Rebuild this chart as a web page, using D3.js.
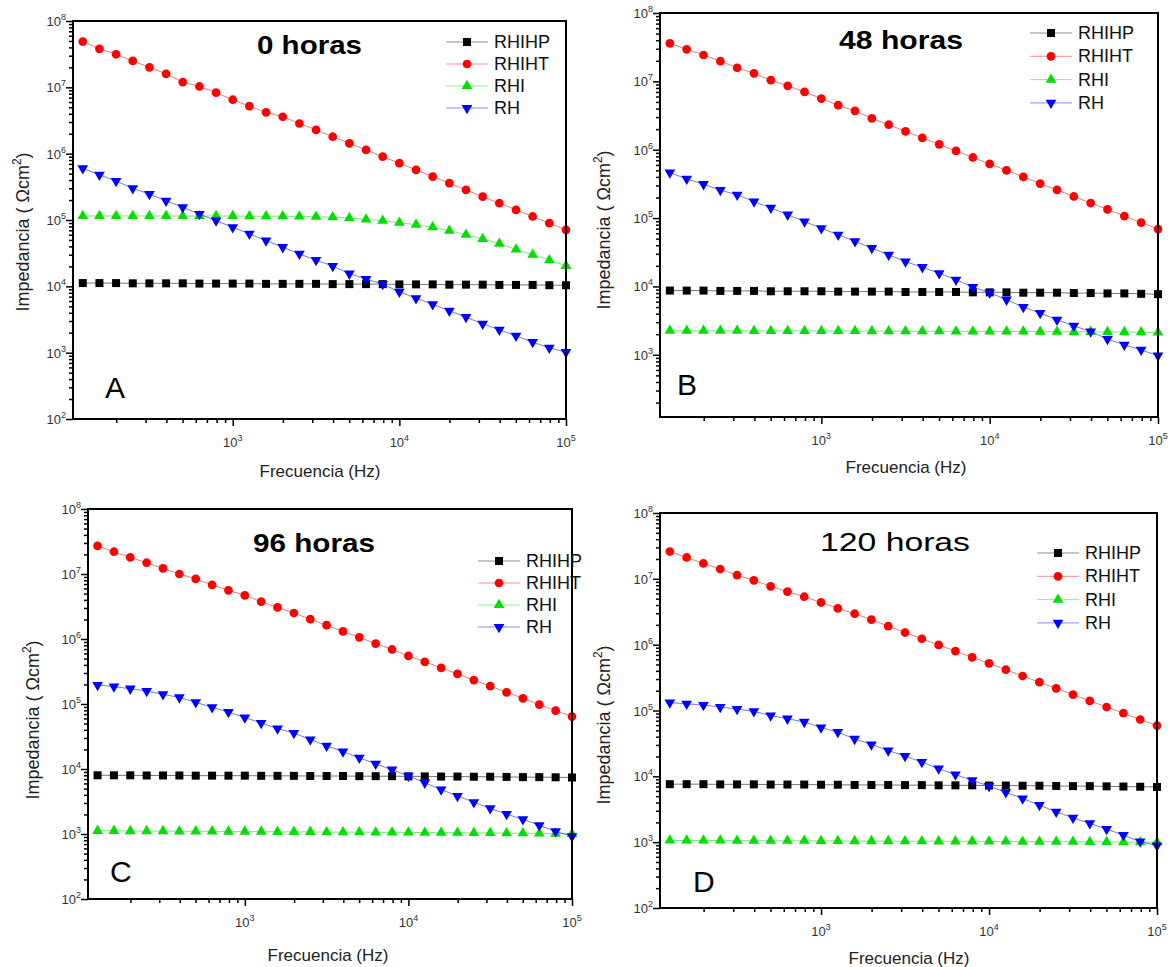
<!DOCTYPE html>
<html>
<head>
<meta charset="utf-8">
<script src="https://cdn.jsdelivr.net/npm/d3@7/dist/d3.min.js"></script>
<style>
  body { margin: 0; background: #fff; }
  svg { font-family: "Liberation Sans", Arial, sans-serif; }
</style>
</head>
<body>
<div class="chart"></div>
<script>
// frequencies (Hz), 10 points per decade
const freq = [125.9, 158.5, 199.5, 251.2, 316.2, 398.1, 501.2, 631, 794.3, 1000,
  1259, 1585, 1995, 2512, 3162, 3981, 5012, 6310, 7943, 10000,
  12589, 15849, 19953, 25119, 31623, 39811, 50119, 63096, 79433, 100000];

const seriesNames = ["RHIHP", "RHIHT", "RHI", "RH"];
const panelTitles = ["0 horas", "48 horas", "96 horas", "120 horas"];
const panelLetters = ["A", "B", "C", "D"];
const xTickLabels = [3, 4, 5];

// 0 horas
const rhihp0 = [11200, 11200, 11200, 11100, 11100, 11100, 11100, 11000, 11000, 11000, 11000, 10900, 10900, 10900, 10900,
  10800, 10800, 10800, 10800, 10700, 10700, 10700, 10600, 10600, 10600, 10500, 10500, 10500, 10400, 10400];
const rhiht0 = [4.9e7, 3.8e7, 3.15e7, 2.5e7, 2.0e7, 1.6e7, 1.2e7, 1.03e7, 8.3e6, 6.5e6, 5.2e6, 4.2e6, 3.6e6, 2.85e6, 2.28e6,
  1.8e6, 1.43e6, 1.14e6, 9.0e5, 7.2e5, 5.7e5, 4.5e5, 3.6e5, 2.84e5, 2.25e5, 1.79e5, 1.42e5, 1.13e5, 8.95e4, 7.1e4];
const rhi0 = [1.15e5, 1.15e5, 1.15e5, 1.15e5, 1.15e5, 1.15e5, 1.15e5, 1.15e5, 1.15e5, 1.15e5, 1.14e5, 1.14e5, 1.14e5, 1.13e5, 1.12e5,
  1.1e5, 1.07e5, 1.02e5, 9.8e4, 9.1e4, 8.5e4, 7.8e4, 6.9e4, 6.0e4, 5.2e4, 4.4e4, 3.6e4, 3.0e4, 2.48e4, 2.04e4];
const rh0 = [6.0e5, 4.81e5, 3.86e5, 3.0e5, 2.46e5, 1.95e5, 1.55e5, 1.23e5, 9.77e4, 7.76e4, 6.17e4, 4.9e4, 3.89e4, 3.09e4, 2.48e4,
  2.02e4, 1.55e4, 1.29e4, 1.08e4, 8.26e3, 6.61e3, 5.37e3, 4.27e3, 3.43e3, 2.72e3, 2.21e3, 1.79e3, 1.44e3, 1.18e3, 1.02e3];

// 48 horas
const rhihp48 = [8700, 8700, 8700, 8600, 8600, 8600, 8500, 8500, 8500, 8500, 8400, 8400, 8400, 8400, 8300,
  8300, 8300, 8300, 8200, 8200, 8200, 8100, 8100, 8100, 8000, 8000, 7900, 7900, 7800, 7700];
const rhiht48 = [3.6e7, 2.94e7, 2.43e7, 1.97e7, 1.58e7, 1.31e7, 1.04e7, 8.6e6, 7.0e6, 5.6e6, 4.48e6, 3.69e6, 2.88e6, 2.32e6, 1.86e6,
  1.49e6, 1.2e6, 9.6e5, 7.7e5, 6.2e5, 5.0e5, 4.0e5, 3.2e5, 2.58e5, 2.07e5, 1.66e5, 1.34e5, 1.07e5, 8.6e4, 6.9e4];
const rhi48 = [2250, 2250, 2250, 2250, 2250, 2240, 2240, 2240, 2240, 2230, 2230, 2230, 2220, 2220, 2220,
  2210, 2210, 2200, 2200, 2200, 2190, 2190, 2180, 2180, 2170, 2170, 2160, 2150, 2140, 2120];
const rh48 = [4.62e5, 3.74e5, 3.13e5, 2.56e5, 2.19e5, 1.74e5, 1.41e5, 1.12e5, 8.9e4, 7.1e4, 5.7e4, 4.57e4, 3.63e4, 2.9e4, 2.31e4,
  1.91e4, 1.56e4, 1.25e4, 9.8e3, 8.1e3, 6.4e3, 4.98e3, 4.07e3, 3.25e3, 2.65e3, 2.19e3, 1.7e3, 1.4e3, 1.18e3, 970];

// 96 horas
const rhihp96 = [8000, 8000, 8000, 7950, 7950, 7950, 7900, 7900, 7900, 7900, 7850, 7850, 7850, 7800, 7800,
  7800, 7750, 7750, 7750, 7700, 7700, 7650, 7650, 7600, 7600, 7550, 7500, 7500, 7450, 7400];
const rhiht96 = [2.7e7, 2.2e7, 1.8e7, 1.49e7, 1.22e7, 1.0e7, 8.4e6, 6.8e6, 5.6e6, 4.7e6, 3.75e6, 3.06e6, 2.51e6, 2.02e6, 1.63e6,
  1.31e6, 1.06e6, 8.5e5, 6.9e5, 5.5e5, 4.46e5, 3.6e5, 2.9e5, 2.33e5, 1.88e5, 1.51e5, 1.22e5, 9.8e4, 7.9e4, 6.4e4];
const rhi96 = [1120, 1120, 1110, 1110, 1110, 1100, 1100, 1100, 1090, 1090, 1090, 1080, 1080, 1080, 1070,
  1070, 1070, 1060, 1060, 1060, 1050, 1050, 1050, 1040, 1040, 1030, 1030, 1020, 1010, 1000];
const rh96 = [1.96e5, 1.85e5, 1.72e5, 1.58e5, 1.41e5, 1.26e5, 1.06e5, 8.9e4, 7.5e4, 6.2e4, 5.1e4, 4.2e4, 3.57e4, 2.84e4, 2.28e4,
  1.85e4, 1.49e4, 1.2e4, 9.75e3, 7.85e3, 6.15e3, 4.83e3, 3.84e3, 3.08e3, 2.48e3, 2.02e3, 1.68e3, 1.36e3, 1.1e3, 920];

// 120 horas
const rhihp120 = [7600, 7600, 7600, 7550, 7550, 7550, 7500, 7500, 7500, 7450, 7450, 7400, 7400, 7400, 7350,
  7350, 7300, 7300, 7300, 7250, 7250, 7200, 7200, 7150, 7100, 7100, 7050, 7000, 6950, 6900];
const rhiht120 = [2.6e7, 2.11e7, 1.71e7, 1.41e7, 1.14e7, 9.5e6, 7.7e6, 6.4e6, 5.35e6, 4.38e6, 3.55e6, 2.95e6, 2.4e6, 1.91e6, 1.53e6,
  1.23e6, 9.9e5, 8.0e5, 6.4e5, 5.2e5, 4.16e5, 3.34e5, 2.69e5, 2.17e5, 1.74e5, 1.4e5, 1.13e5, 9.1e4, 7.3e4, 5.9e4];
const rhi120 = [1060, 1060, 1060, 1060, 1055, 1055, 1050, 1050, 1050, 1045, 1045, 1040, 1040, 1040, 1035,
  1035, 1030, 1030, 1030, 1025, 1025, 1020, 1020, 1015, 1015, 1010, 1010, 1005, 1000, 1000];
const rh120 = [1.32e5, 1.26e5, 1.21e5, 1.13e5, 1.05e5, 9.7e4, 8.4e4, 7.5e4, 6.7e4, 5.5e4, 4.7e4, 3.7e4, 3.04e4, 2.47e4, 2.03e4,
  1.65e4, 1.31e4, 1.06e4, 8.7e3, 7.1e3, 5.7e3, 4.6e3, 3.65e3, 2.89e3, 2.34e3, 1.93e3, 1.58e3, 1.28e3, 1.02e3, 890];

const panelData = [
  [rhihp0, rhiht0, rhi0, rh0],
  [rhihp48, rhiht48, rhi48, rh48],
  [rhihp96, rhiht96, rhi96, rh96],
  [rhihp120, rhiht120, rhi120, rh120]
];

const colors = ["#000000", "#ff0000", "#00e000", "#0000ff"];

// placement of each panel inside the picture
const layout = [
  {x0: 73, x1: 566, y0: 21, y1: 419, ymin: 1e2, bold: true, tx: 257, ty: 54, tlen: 105,
   lx: 105, ly: 398, legX: 467, legY: 42, legDy: 22, ytx: 29, yty: 232, xtx: 320, xty: 477},
  {x0: 660, x1: 1158, y0: 13, y1: 417, ymin: Math.pow(10, 2.09), bold: true, tx: 839, ty: 49, tlen: 124,
   lx: 677, ly: 395, legX: 1051, legY: 33, legDy: 23.3, ytx: 610, yty: 230, xtx: 906, xty: 473},
  {x0: 88, x1: 572, y0: 509, y1: 899, ymin: 1e2, bold: true, tx: 253, ty: 552, tlen: 122,
   lx: 110, ly: 882, legX: 499, legY: 561, legDy: 22, ytx: 39, yty: 720, xtx: 328, xty: 961},
  {x0: 660, x1: 1157, y0: 513, y1: 908, ymin: 1e2, bold: false, tx: 820, ty: 551, tlen: 150,
   lx: 693, ly: 892, legX: 1058, legY: 553, legDy: 23.3, ytx: 610, yty: 725, xtx: 909, xty: 964}
];

const svg = d3.select('.chart')
  .append('svg')
  .attr('width', 1176)
  .attr('height', 967);

svg.append('rect').attr('width', 1176).attr('height', 967).attr('fill', '#fff');

const symbols = [d3.symbolSquare, d3.symbolCircle, d3.symbolTriangle, d3.symbolTriangle];
const symSizes = [64, 60, 50, 50];

function drawMarker(g, i, x, y) {
  g.append('path')
    .attr('d', d3.symbol().type(symbols[i]).size(symSizes[i])())
    .attr('transform', `translate(${x},${y})` + (i === 3 ? ' rotate(180)' : ''))
    .attr('fill', colors[i]);
}

layout.forEach((L, p) => {
  const g = svg.append('g');
  const xScale = d3.scaleLog().domain([110, 1e5]).range([L.x0, L.x1]);
  const yScale = d3.scaleLog().domain([L.ymin, 1e8]).range([L.y1, L.y0]);

  // minor ticks
  const xMinor = [];
  for (let d = 2; d <= 4; d++) for (let k = 2; k <= 9; k++) {
    const v = k * Math.pow(10, d);
    if (v >= 110 && v <= 1e5) xMinor.push(v);
  }
  const yMinor = [];
  for (let d = 2; d <= 7; d++) for (let k = 2; k <= 9; k++) {
    const v = k * Math.pow(10, d);
    if (v >= L.ymin && v <= 1e8) yMinor.push(v);
  }
  const yMajor = [2, 3, 4, 5, 6, 7, 8].filter(e => Math.pow(10, e) >= L.ymin * 0.999);

  g.append('g')
    .attr('transform', `translate(0,${L.y1})`)
    .call(d3.axisBottom(xScale).tickValues(xMinor).tickSize(4).tickFormat(''))
    .call(a => a.select('.domain').remove());
  g.append('g')
    .attr('transform', `translate(0,${L.y1})`)
    .call(d3.axisBottom(xScale).tickValues(xTickLabels.map(e => Math.pow(10, e))).tickSize(7).tickFormat(''))
    .call(a => a.select('.domain').remove());
  g.append('g')
    .attr('transform', `translate(${L.x0},0)`)
    .call(d3.axisLeft(yScale).tickValues(yMinor).tickSize(4).tickFormat(''))
    .call(a => a.select('.domain').remove());
  g.append('g')
    .attr('transform', `translate(${L.x0},0)`)
    .call(d3.axisLeft(yScale).tickValues(yMajor.map(e => Math.pow(10, e))).tickSize(7).tickFormat(''))
    .call(a => a.select('.domain').remove());
  g.selectAll('.tick line').attr('stroke', '#000').attr('stroke-width', 1.5);

  // tick labels 10^n
  xTickLabels.forEach(e => {
    const t = g.append('text')
      .attr('x', xScale(Math.pow(10, e)))
      .attr('y', L.y1 + 28)
      .attr('text-anchor', 'middle')
      .attr('font-size', 13)
      .attr('fill', '#333');
    t.append('tspan').text('10');
    t.append('tspan').attr('dy', -6).attr('font-size', 9).text(e);
  });
  yMajor.forEach(e => {
    const t = g.append('text')
      .attr('x', L.x0 - 7)
      .attr('y', yScale(Math.pow(10, e)) + 5)
      .attr('text-anchor', 'end')
      .attr('font-size', 13)
      .attr('fill', '#333');
    t.append('tspan').text('10');
    t.append('tspan').attr('dy', -6).attr('font-size', 9).text(e);
  });

  // series
  panelData[p].forEach((vals, i) => {
    const pts = freq.map((f, j) => [xScale(f), yScale(vals[j])]);
    g.append('path')
      .attr('d', d3.line()(pts))
      .attr('fill', 'none')
      .attr('stroke', colors[i])
      .attr('stroke-width', 0.9)
      .attr('stroke-opacity', 0.6);
    pts.forEach(pt => drawMarker(g, i, pt[0], pt[1]));
  });

  // frame
  g.append('rect')
    .attr('x', L.x0).attr('y', L.y0)
    .attr('width', L.x1 - L.x0).attr('height', L.y1 - L.y0)
    .attr('fill', 'none')
    .attr('stroke', '#000')
    .attr('stroke-width', 2);

  // title and letter
  g.append('text')
    .attr('x', L.tx).attr('y', L.ty)
    .attr('font-size', 26)
    .attr('font-weight', L.bold ? 'bold' : 'normal')
    .attr('textLength', L.tlen)
    .attr('lengthAdjust', 'spacingAndGlyphs')
    .text(panelTitles[p]);
  g.append('text')
    .attr('x', L.lx).attr('y', L.ly)
    .attr('font-size', 30)
    .text(panelLetters[p]);

  // legend
  seriesNames.forEach((name, i) => {
    const ly = L.legY + i * L.legDy;
    g.append('line')
      .attr('x1', L.legX - 21).attr('x2', L.legX + 21)
      .attr('y1', ly).attr('y2', ly)
      .attr('stroke', colors[i]).attr('stroke-opacity', 0.45);
    drawMarker(g, i, L.legX, ly);
    g.append('text')
      .attr('x', L.legX + 27).attr('y', ly + 6)
      .attr('font-size', 18)
      .attr('fill', '#111')
      .text(name);
  });

  // axis titles
  g.append('text')
    .attr('x', L.xtx).attr('y', L.xty)
    .attr('text-anchor', 'middle')
    .attr('font-size', 17)
    .attr('fill', '#222')
    .text('Frecuencia (Hz)');
  const yt = g.append('text')
    .attr('transform', `translate(${L.ytx},${L.yty}) rotate(-90)`)
    .attr('text-anchor', 'middle')
    .attr('font-size', 18)
    .attr('fill', '#222');
  yt.append('tspan').text('Impedancia ( \u03A9cm');
  yt.append('tspan').attr('dy', -8).attr('font-size', 12).text('2');
  yt.append('tspan').attr('dy', 8).text(')');
});
</script>
</body>
</html>
